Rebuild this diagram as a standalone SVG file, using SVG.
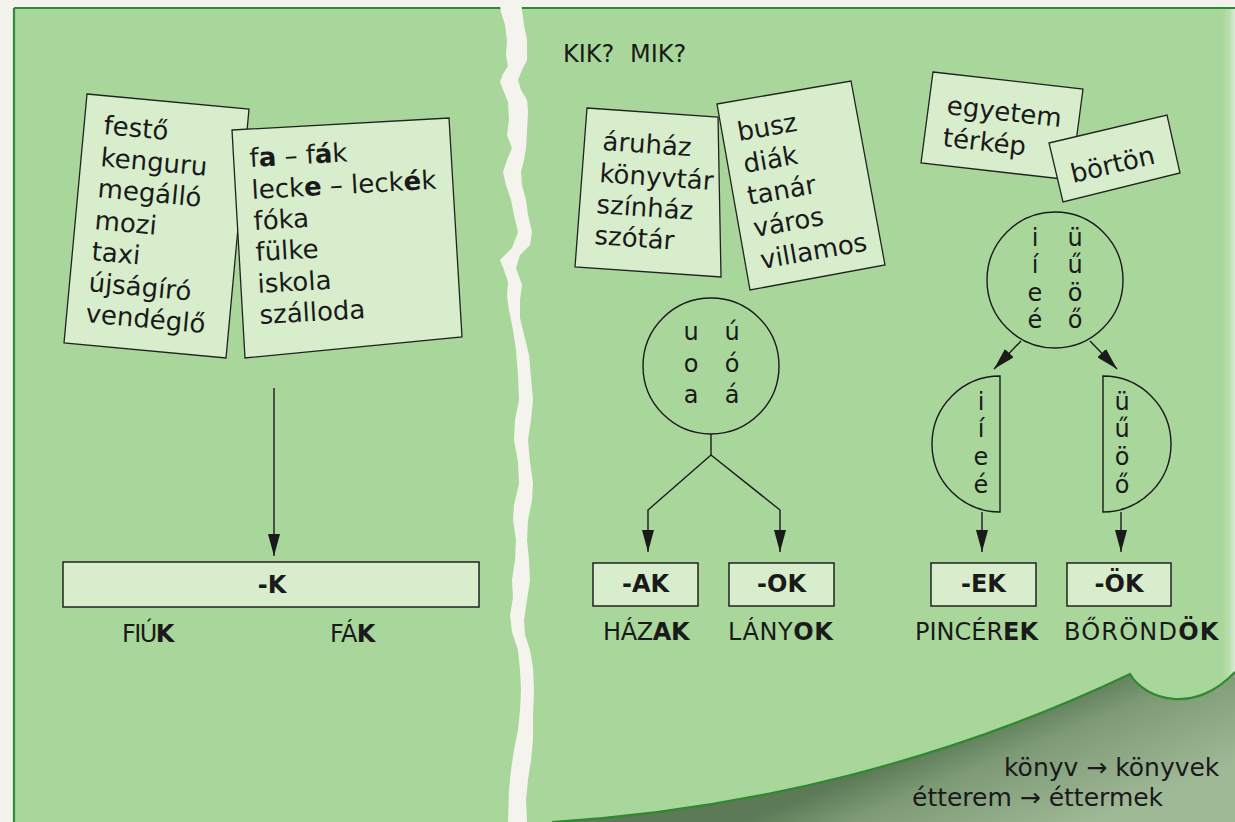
<svg xmlns="http://www.w3.org/2000/svg" width="1235" height="822" viewBox="0 0 1235 822">
<defs>
<marker id="ah" viewBox="0 0 22 12" refX="22" refY="6" markerWidth="22" markerHeight="12" markerUnits="userSpaceOnUse" orient="auto"><path d="M0,0 L22,6 L0,12 Z" fill="#1a1a1a"/></marker>
<linearGradient id="shade" gradientUnits="userSpaceOnUse" x1="1040" y1="700" x2="1090" y2="822">
<stop offset="0" stop-color="#5c7a57"/>
<stop offset="0.3" stop-color="#7d9a75"/>
<stop offset="1" stop-color="#9fb896"/>
</linearGradient>
<linearGradient id="edge" x1="0" y1="0" x2="1" y2="0">
<stop offset="0" stop-color="#a9d79b" stop-opacity="0"/>
<stop offset="1" stop-color="#d9ecd3"/>
</linearGradient>
</defs>
<style>
text{font-family:"DejaVu Sans",sans-serif;fill:#1a1a1a}
.c{font-size:26px}
.v{font-size:24px;text-anchor:middle}
.l{font-size:25px}
.u{font-size:24px}
.bx{font-size:24px;font-weight:bold;text-anchor:middle}
.b{font-weight:bold}
.card{fill:#d7edcb;stroke:#222;stroke-width:1.3}
.box{fill:#d7edcb;stroke:#222;stroke-width:1.5}
.ln{fill:none;stroke:#1a1a1a;stroke-width:1.4}
.node{fill:none;stroke:#1a1a1a;stroke-width:1.4}
.border{stroke:#2f8a37;stroke-width:2.2;fill:none}
</style>

<g id="background">
<rect x="0" y="0" width="1235" height="822" fill="#f4f2ec"/>
<rect x="14" y="8" width="1221" height="814" fill="#a9d79b"/>
<line class="border" x1="14" y1="8" x2="1235" y2="8"/>
<line class="border" x1="14" y1="8" x2="14" y2="822"/>
<rect x="1220" y="9" width="15" height="690" fill="url(#edge)"/>
<path d="M499,0 L501,12 L505,25 L507,40 L506,55 L508,66 L503,74 L500,82 L504,92 L508,102 L509,120 L507,135 L512,148 L507,160 L503,172 L506,185 L511,200 L514,215 L518,232 L512,248 L500,260 L504,270 L508,282 L507,296 L509,310 L513,330 L516,350 L518,375 L519,400 L515,420 L514,440 L518,462 L519,484 L514,505 L513,520 L516,540 L515,560 L512,580 L513,598 L510,615 L512,632 L518,650 L520,670 L521,690 L520,710 L518,730 L514,750 L511,770 L509,790 L508,822 L527,822 L526,800 L528,780 L531,760 L533,740 L533,715 L534,690 L533,668 L530,650 L525,635 L524,620 L527,600 L530,580 L529,560 L527,540 L528,520 L532,500 L533,483 L530,462 L528,440 L531,420 L533,400 L531,378 L529,355 L524,335 L520,318 L520,300 L522,285 L516,268 L520,255 L530,245 L532,232 L528,215 L526,200 L522,185 L521,172 L524,160 L526,148 L527,130 L528,112 L527,100 L521,90 L518,80 L522,70 L527,60 L527,40 L524,25 L522,10 L521,0 Z" fill="#f5f3ee"/>
</g>

<g id="page-curl">
<path d="M552,822 C750,810 950,760 1130,674 C1145,700 1195,715 1235,672 L1235,822 Z" fill="url(#shade)"/>
<path d="M552,822 C750,810 950,760 1130,674 C1145,700 1195,715 1235,672" fill="none" stroke="#2f8a2f" stroke-width="2.2"/>
<text class="l" x="1004" y="776">könyv → könyvek</text>
<text class="l" x="912" y="806">étterem → éttermek</text>
</g>

<g id="card-left-1">
<polygon class="card" points="87,94 249,109 226,358 64,343"/>
<text class="c" x="103" y="134" transform="rotate(5.3 103 134)">festő</text>
<text class="c" x="100" y="166" transform="rotate(5.3 100 166)">kenguru</text>
<text class="c" x="97" y="197" transform="rotate(5.3 97 197)">megálló</text>
<text class="c" x="94" y="229" transform="rotate(5.3 94 229)">mozi</text>
<text class="c" x="91" y="260" transform="rotate(5.3 91 260)">taxi</text>
<text class="c" x="88" y="291" transform="rotate(5.3 88 291)">újságíró</text>
<text class="c" x="85" y="322" transform="rotate(5.3 85 322)">vendéglő</text>
</g>

<g id="card-left-2">
<polygon class="card" points="232,130 449,118 462,337 245,358"/>
<text class="c" x="250" y="167" transform="rotate(-3.2 250 167)">f<tspan class="b">a</tspan> – f<tspan class="b">á</tspan>k</text>
<text class="c" x="252" y="199" transform="rotate(-3.2 252 199)">leck<tspan class="b">e</tspan> – leck<tspan class="b">é</tspan>k</text>
<text class="c" x="254" y="230" transform="rotate(-3.2 254 230)">fóka</text>
<text class="c" x="256" y="261" transform="rotate(-3.2 256 261)">fülke</text>
<text class="c" x="258" y="293" transform="rotate(-3.2 258 293)">iskola</text>
<text class="c" x="260" y="324" transform="rotate(-3.2 260 324)">szálloda</text>
</g>

<g id="box-k">
<rect class="box" x="63" y="562" width="416" height="45"/>
<text class="bx" x="272" y="593">-K</text>
<text class="u" x="122" y="642" letter-spacing="-1.6">FIÚ<tspan class="b">K</tspan></text>
<text class="u" x="330" y="642" letter-spacing="-0.6">FÁ<tspan class="b">K</tspan></text>
</g>

<g id="title">
<text style="font-size:24px" x="563" y="62">KIK?<tspan x="630">MIK?</tspan></text>
</g>

<g id="card-a">
<polygon class="card" points="587,108 718,117 721,277 575,267"/>
<text class="c" x="602" y="150" transform="rotate(4 602 150)">áruház</text>
<text class="c" x="599" y="182" transform="rotate(4 599 182)">könyvtár</text>
<text class="c" x="596" y="213" transform="rotate(4 596 213)">színház</text>
<text class="c" x="594" y="244" transform="rotate(4 594 244)">szótár</text>
</g>

<g id="card-b">
<polygon class="card" points="717,104 851,81 885,265 750,290"/>
<text class="c" x="739" y="141" transform="rotate(-10 739 141)">busz</text>
<text class="c" x="745" y="173" transform="rotate(-10 745 173)">diák</text>
<text class="c" x="749" y="205" transform="rotate(-10 749 205)">tanár</text>
<text class="c" x="755" y="237" transform="rotate(-10 755 237)">város</text>
<text class="c" x="762" y="269" transform="rotate(-10 762 269)">villamos</text>
</g>

<g id="card-c">
<polygon class="card" points="933,72 1083,89 1071,180 921,163"/>
<text class="c" x="946" y="114" transform="rotate(6.5 946 114)">egyetem</text>
<text class="c" x="942" y="146" transform="rotate(6.5 942 146)">térkép</text>
</g>

<g id="card-d">
<polygon class="card" points="1049,143 1167,115 1180,173 1063,202"/>
<text class="c" x="1073" y="183" transform="rotate(-13.3 1073 183)">börtön</text>
</g>

<g id="circle-back">
<circle class="node" cx="711" cy="366" r="68"/>
<text class="v" x="691" y="340">u</text><text class="v" x="732" y="340">ú</text>
<text class="v" x="691" y="372">o</text><text class="v" x="732" y="372">ó</text>
<text class="v" x="691" y="403">a</text><text class="v" x="732" y="403">á</text>
</g>

<g id="circle-front">
<circle class="node" cx="1055" cy="280" r="68"/>
<text class="v" x="1035" y="246">i</text><text class="v" x="1075" y="246">ü</text>
<text class="v" x="1035" y="273">í</text><text class="v" x="1075" y="273">ű</text>
<text class="v" x="1035" y="301">e</text><text class="v" x="1075" y="301">ö</text>
<text class="v" x="1035" y="328">é</text><text class="v" x="1075" y="328">ő</text>
</g>

<g id="half-unrounded">
<path class="node" d="M1000,376 L1000,512 A68,68 0 0 1 1000,376 Z"/>
<text class="v" x="981" y="410">i</text>
<text class="v" x="981" y="437">í</text>
<text class="v" x="981" y="465">e</text>
<text class="v" x="981" y="493">é</text>
</g>

<g id="half-rounded">
<path class="node" d="M1103,376 L1103,512 A68,68 0 0 0 1103,376 Z"/>
<text class="v" x="1122" y="410">ü</text>
<text class="v" x="1122" y="437">ű</text>
<text class="v" x="1122" y="465">ö</text>
<text class="v" x="1122" y="493">ő</text>
</g>

<g id="box-ak">
<rect class="box" x="593" y="563" width="105" height="43"/>
<text class="bx" x="645.5" y="592">-AK</text>
<text class="u" x="603" y="640" letter-spacing="-0.4">HÁZ<tspan class="b">AK</tspan></text>
</g>
<g id="box-ok">
<rect class="box" x="729" y="563" width="105" height="43"/>
<text class="bx" x="781.5" y="592">-OK</text>
<text class="u" x="728" y="640" letter-spacing="0.6">LÁNY<tspan class="b">OK</tspan></text>
</g>
<g id="box-ek">
<rect class="box" x="931" y="563" width="105" height="43"/>
<text class="bx" x="983.5" y="592">-EK</text>
<text class="u" x="915" y="640">PINCÉR<tspan class="b">EK</tspan></text>
</g>
<g id="box-ok2">
<rect class="box" x="1067" y="563" width="104" height="43"/>
<text class="bx" x="1119" y="592">-ÖK</text>
<text class="u" x="1064" y="640" letter-spacing="1.2">BŐRÖND<tspan class="b">ÖK</tspan></text>
</g>

<g id="connectors">
<path class="ln" d="M274,388 L274,556" marker-end="url(#ah)"/>
<path class="ln" d="M711,434 L711,455"/>
<path class="ln" d="M711,455 L648,510 L648,552" marker-end="url(#ah)"/>
<path class="ln" d="M711,455 L780,510 L780,552" marker-end="url(#ah)"/>
<path class="ln" d="M1021,341 L994,369" marker-end="url(#ah)"/>
<path class="ln" d="M1090,341 L1117,369" marker-end="url(#ah)"/>
<path class="ln" d="M982,512 L982,552" marker-end="url(#ah)"/>
<path class="ln" d="M1121,512 L1121,552" marker-end="url(#ah)"/>
</g>
</svg>
